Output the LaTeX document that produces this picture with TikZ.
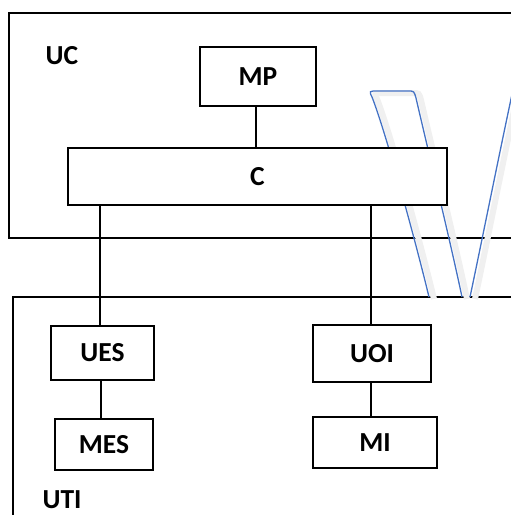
\documentclass[tikz,border=0pt]{standalone}
\usepackage{fontspec}
\setmainfont{Carlito}
\definecolor{officeblue}{RGB}{68,114,196}
\tikzset{
  box/.style={draw=black, line width=2pt, fill=white, inner sep=0pt,
    font=\fontsize{27.5}{32}\selectfont\bfseries},
  lbl/.style={inner sep=0pt, font=\fontsize{27.5}{32}\selectfont\bfseries},
  wire/.style={draw=black, line width=2pt},
  frame/.style={draw=black, line width=2pt},
  bluecurve/.style={draw=officeblue, line width=1.3pt},
  blueshadow/.style={draw=black!6, line width=6pt}
}
\begin{document}
\begin{tikzpicture}[x=1pt, y=-1pt]
\useasboundingbox (0,0) rectangle (511,515);
\clip (0,0) rectangle (511,515);
% containers
\draw[frame] (9,13) rectangle (540,238);
\draw[frame] (13,297) rectangle (540,540);
\node[lbl] (UC) at (62,56) {UC};
\node[lbl] (UTI) at (62,500) {UTI};
% blue shape shadow
\begin{scope}[shift={(5,2)}]
\draw[blueshadow] (429,297) .. controls (414,235) and (385,130) .. (372,97)
  .. controls (369,91) .. (378,91) -- (408,91) .. controls (414,91) .. (416,98)
  .. controls (428,150) and (450,240) .. (462,297);
\draw[blueshadow] (470,297) .. controls (480,250) and (500,150) .. (514,85);
\end{scope}
% blue shape
\draw[bluecurve] (429,297) .. controls (414,235) and (385,130) .. (372,97)
  .. controls (369,91) .. (378,91) -- (408,91) .. controls (414,91) .. (416,98)
  .. controls (428,150) and (450,240) .. (462,297);
\draw[bluecurve] (470,297) .. controls (480,250) and (500,150) .. (514,85);
% boxes
\node[box, minimum width=116pt, minimum height=59pt] (MP) at (258,76.5) {MP};
\node[box, minimum width=379pt, minimum height=57pt] (C) at (257.5,176.5) {C};
\node[box, minimum width=103pt, minimum height=54pt] (UES) at (102.5,353) {UES};
\node[box, minimum width=98pt, minimum height=51pt] (MES) at (104,444.5) {MES};
\node[box, minimum width=118pt, minimum height=57pt] (UOI) at (372,353.5) {UOI};
\node[box, minimum width=124pt, minimum height=51pt] (MI) at (375,442.5) {MI};
% connectors
\draw[wire] ([xshift=-2pt]MP.south) -- ([xshift=-2pt]MP.south |- C.north);
\draw[wire] ([xshift=-2.5pt]UES.north) -- ([xshift=-2.5pt]UES.north |- C.south);
\draw[wire] ([xshift=-1pt]UOI.north) -- ([xshift=-1pt]UOI.north |- C.south);
\draw[wire] ([xshift=-1.5pt]UES.south) -- ([xshift=-1.5pt]UES.south |- MES.north);
\draw[wire] ([xshift=-1pt]UOI.south) -- ([xshift=-1pt]UOI.south |- MI.north);
\end{tikzpicture}
\end{document}
